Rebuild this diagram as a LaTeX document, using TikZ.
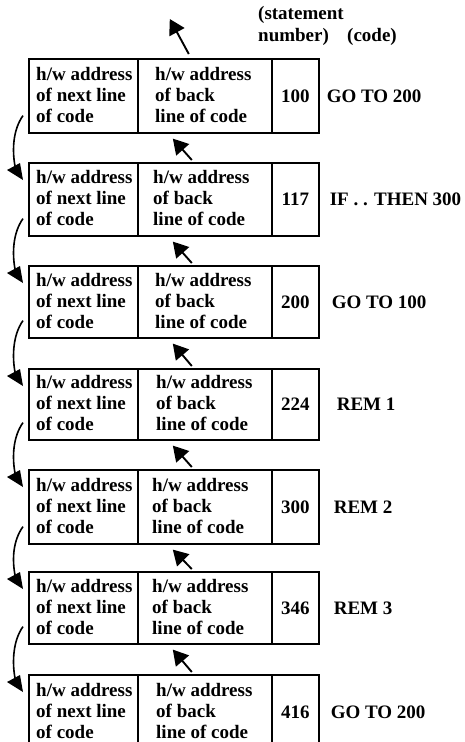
\documentclass[tikz,border=0pt]{standalone}
\usepackage{fontspec}
\setmainfont{Liberation Serif}
\usetikzlibrary{arrows.meta,calc}
\begin{document}
\begin{tikzpicture}[x=1pt,y=-1pt,
  cell/.style={draw, line width=1.6pt, rectangle, inner sep=0pt, anchor=north west},
  txt/.style={font=\fontsize{19}{21}\selectfont\bfseries, align=left, inner sep=0pt, anchor=west},
  codelbl/.style={font=\fontsize{19}{21}\selectfont\bfseries, inner sep=0pt, anchor=base west},
  uparrow/.style={line width=1.9pt, -{Triangle[length=15pt,width=17pt]}},
  looparrow/.style={line width=1.6pt},
]
\useasboundingbox (0,0) rectangle (464,742);
\clip (0,0) rectangle (464,742);
\fill[white] (0,0) rectangle (464,742);

% header
\node[codelbl] (h1) at (258,19) {(statement};
\node[codelbl] (h2) at (258,41) {number)};
\node[codelbl] (h3) at (347,41) {(code)};

% rows
\foreach \i/\t/\h/\num/\code/\cx/\mx in {
  1/58/74/100/{GO TO 200}/325/18,
  2/162/73/117/{IF . . THEN 300}/328/16,
  3/265/72/200/{GO TO 100}/330/18,
  4/368/71/224/{REM 1}/335/19,
  5/469/74/300/{REM 2}/332/15,
  6/571/72/346/{REM 3}/332/15,
  7/674/74/416/{GO TO 200}/329/19} {
  \node[cell, minimum width=109pt, minimum height=\h pt] (L\i) at (28,\t) {};
  \node[cell, minimum width=134pt, minimum height=\h pt] (M\i) at (137,\t) {};
  \node[cell, minimum width=47pt, minimum height=\h pt,
        font=\fontsize{19}{21}\selectfont\bfseries] (N\i) at (271,\t) {\num};
  \node[txt] (LT\i) at ($(L\i.west)+(8,-1)$) {h/w address\\of next line\\of code};
  \node[txt] (MT\i) at ($(M\i.west)+(\mx,-1)$) {h/w address\\of back\\line of code};
  \node[codelbl] (C\i) at ($(N\i.east)+(\cx-318,6.3)$) {\code};
}

% top back arrow
\draw[uparrow] ($(M1.north)+(-16,-4)$) -- ($(M1.north)+(-35,-39)$);

% back arrows between rows and next-line loops
\foreach \i in {2,...,7} {
  \pgfmathtruncatemacro\j{\i-1}
  \draw[uparrow] ($(M\i.north)+(-13,-2)$) -- ($(M\j.south)+(-32,5)$);
  \draw[looparrow] ($(L\j.south west)+(-5,-18)$)
    .. controls ($(L\j.south west)+(-15,-4)$) and ($(L\i.north west)+(-16,-12)$)
    .. ($(L\i.north west)+(-13,4)$);
  \fill ($(L\i.north west)+(-21,8)$) -- ($(L\i.north west)+(-8,1)$)
     -- ($(L\i.north west)+(-5,18)$) -- cycle;
}
\end{tikzpicture}
\end{document}
